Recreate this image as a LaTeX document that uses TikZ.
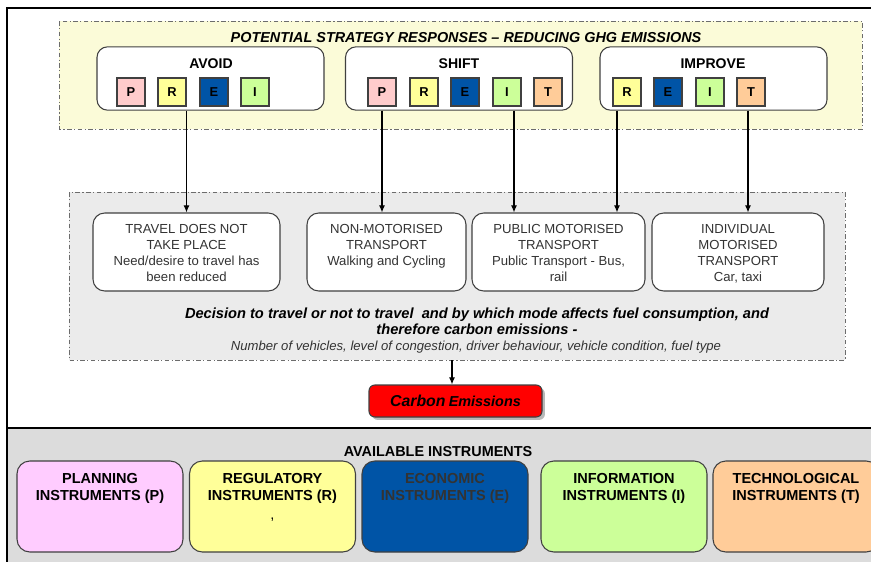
\documentclass[tikz,border=0pt]{standalone}
\usepackage{fontspec}
\setmainfont{Liberation Sans}
\usetikzlibrary{arrows.meta,shadows}
\definecolor{edgegray}{HTML}{404040}
\definecolor{stratbg}{HTML}{FBFBD8}
\definecolor{modebg}{HTML}{EBEBEB}
\definecolor{instbg}{HTML}{DCDCDC}
\definecolor{colP}{HTML}{FFCCCC}
\definecolor{colR}{HTML}{FFFF99}
\definecolor{colE}{HTML}{0054A6}
\definecolor{colI}{HTML}{CCFF99}
\definecolor{colT}{HTML}{FFCC99}
\definecolor{colPlan}{HTML}{FFCCFF}
\definecolor{modetext}{HTML}{333333}
\tikzset{
  dashdot/.style={draw=gray!85!black, line width=0.7pt, dash pattern=on 4pt off 2pt on 1pt off 2pt},
  groupbox/.style={draw=edgegray, line width=0.9pt, rounded corners=9pt, fill=white, inner sep=0pt, minimum width=6.81cm, minimum height=1.9cm},
  grouplabel/.style={font=\fontsize{12}{14}\selectfont\bfseries},
  letterbox/.style={draw=edgegray, line width=0.9pt, inner sep=0pt, minimum size=0.84cm, font=\fontsize{11}{13}\selectfont\bfseries},
  modebox/.style={draw=edgegray, line width=0.9pt, rounded corners=10pt, fill=white, inner sep=0pt, minimum height=2.34cm},
  modetxt/.style={anchor=north, inner sep=0pt, align=center, text=modetext, font=\fontsize{11.2}{13.7}\selectfont},
  instbox/.style={draw=edgegray, line width=0.9pt, rounded corners=11pt, inner sep=0pt, minimum width=4.98cm, minimum height=2.73cm},
  insttxt/.style={anchor=north, inner sep=0pt, align=center, font=\fontsize{12.4}{14.5}\selectfont\bfseries},
  arr/.style={line width=0.9pt, -{Latex[length=6pt,width=5pt]}}
}
\begin{document}
\begin{tikzpicture}[x=0.03cm,y=-0.03cm]
    \useasboundingbox (0,0) rectangle (871,562);
    \fill[instbg] (7,428) rectangle (871,562);
    \draw[line width=1.2pt] (871,8) -- (7,8) -- (7,562);
    \draw[line width=1.2pt] (7,428) -- (871,428);

    \filldraw[dashdot, fill=stratbg] (59,21) rectangle (862,129);
    \node[font=\fontsize{12.3}{14}\selectfont\bfseries\itshape] (strattitle) at (466,38) {POTENTIAL STRATEGY RESPONSES -- REDUCING GHG EMISSIONS};

    \node[groupbox] (avoid) at (210.5,78.5) {};
    \node[groupbox] (shift) at (459,78.5) {};
    \node[groupbox] (improve) at (713.5,78.5) {};
    \node[grouplabel] (avoidlbl) at (211,63.5) {AVOID};
    \node[grouplabel] (shiftlbl) at (459,63.5) {SHIFT};
    \node[grouplabel] (improvelbl) at (713,63.5) {IMPROVE};

    \node[letterbox, fill=colP] (avP) at (131,92) {P};
    \node[letterbox, fill=colR] (avR) at (172,92) {R};
    \node[letterbox, fill=colE] (avE) at (214,92) {E};
    \node[letterbox, fill=colI] (avI) at (255,92) {I};
    \node[letterbox, fill=colP] (shP) at (382,92) {P};
    \node[letterbox, fill=colR] (shR) at (424,92) {R};
    \node[letterbox, fill=colE] (shE) at (465,92) {E};
    \node[letterbox, fill=colI] (shI) at (507,92) {I};
    \node[letterbox, fill=colT] (shT) at (548,92) {T};
    \node[letterbox, fill=colR] (imR) at (627,92) {R};
    \node[letterbox, fill=colE] (imE) at (668,92) {E};
    \node[letterbox, fill=colI] (imI) at (710,92) {I};
    \node[letterbox, fill=colT] (imT) at (751,92) {T};

    \filldraw[dashdot, fill=modebg] (69,192) rectangle (845,360);
    \coordinate (modesbottom) at (452,360);

    \node[modebox, minimum width=5.61cm] (travel) at (186.5,252) {};
    \node[modebox, minimum width=4.77cm] (nonmot) at (386.5,252) {};
    \node[modebox, minimum width=5.19cm] (public) at (558.5,252) {};
    \node[modebox, minimum width=5.16cm] (individual) at (738,252) {};
    \node[modetxt] (traveltxt) at (186.5,224) {TRAVEL DOES NOT\\TAKE PLACE\\Need/desire to travel has\\been reduced};
    \node[modetxt] (nonmottxt) at (386.5,224) {NON-MOTORISED\\TRANSPORT\\Walking and Cycling};
    \node[modetxt] (publictxt) at (558.5,224) {PUBLIC MOTORISED\\TRANSPORT\\Public Transport - Bus,\\rail};
    \node[modetxt] (individualtxt) at (738,224) {INDIVIDUAL\\MOTORISED\\TRANSPORT\\Car, taxi};

    \draw[arr] (avoid.south -| travel.north) -- (travel.north);
    \draw[arr] (shP.south |- shift.south) -- (shP.south |- nonmot.north);
    \draw[arr] ([xshift=0.21cm]shI.south |- shift.south) -- ([xshift=0.21cm]shI.south |- public.north);
    \draw[arr] ([xshift=-0.3cm]imR.south |- improve.south) -- ([xshift=-0.3cm]imR.south |- public.north);
    \draw[arr] ([xshift=-0.09cm]imT.south |- improve.south) -- ([xshift=-0.09cm]imT.south |- individual.north);

    \node[align=center, font=\fontsize{12.5}{13.7}\selectfont\bfseries\itshape] (decision) at (477,321) {Decision to travel or not to travel\ \ and by which mode affects fuel consumption, and\\therefore carbon emissions -};
    \node[text=modetext, font=\fontsize{11.2}{13}\selectfont\itshape] (factors) at (476,347) {Number of vehicles, level of congestion, driver behaviour, vehicle condition, fuel type};

    \node[draw=edgegray, line width=0.9pt, fill=red, rounded corners=5pt, minimum width=5.19cm, minimum height=0.96cm, inner sep=0pt,
          drop shadow={shadow xshift=2.5pt, shadow yshift=-2.5pt, fill=black!55}] (carbon) at (455.5,401)
          {\bfseries\itshape{\fontsize{13.5}{15}\selectfont Carbon} {\fontsize{12.3}{14}\selectfont Emissions}};
    \draw[arr] (modesbottom) -- (modesbottom |- carbon.north);

    \node[font=\fontsize{12.3}{14}\selectfont\bfseries] (availlbl) at (438,452) {AVAILABLE INSTRUMENTS};
    \node[instbox, fill=colPlan] (planning) at (100,506.5) {};
    \node[instbox, fill=colR] (regulatory) at (272.5,506.5) {};
    \node[instbox, fill=colE] (economic) at (445,506.5) {};
    \node[instbox, fill=colI] (information) at (624,506.5) {};
    \node[instbox, fill=colT] (technological) at (796,506.5) {};
    \node[insttxt] (planningtxt) at (100,473) {PLANNING\\INSTRUMENTS (P)};
    \node[insttxt] (regulatorytxt) at (272.5,473) {REGULATORY\\INSTRUMENTS (R)\\[2pt]\mdseries ,};
    \node[insttxt, text=black!80] (economictxt) at (445,473) {ECONOMIC\\INSTRUMENTS (E)};
    \node[insttxt] (informationtxt) at (624,473) {INFORMATION\\INSTRUMENTS (I)};
    \node[insttxt] (technologicaltxt) at (796,473) {TECHNOLOGICAL\\INSTRUMENTS (T)};
\end{tikzpicture}
\end{document}
